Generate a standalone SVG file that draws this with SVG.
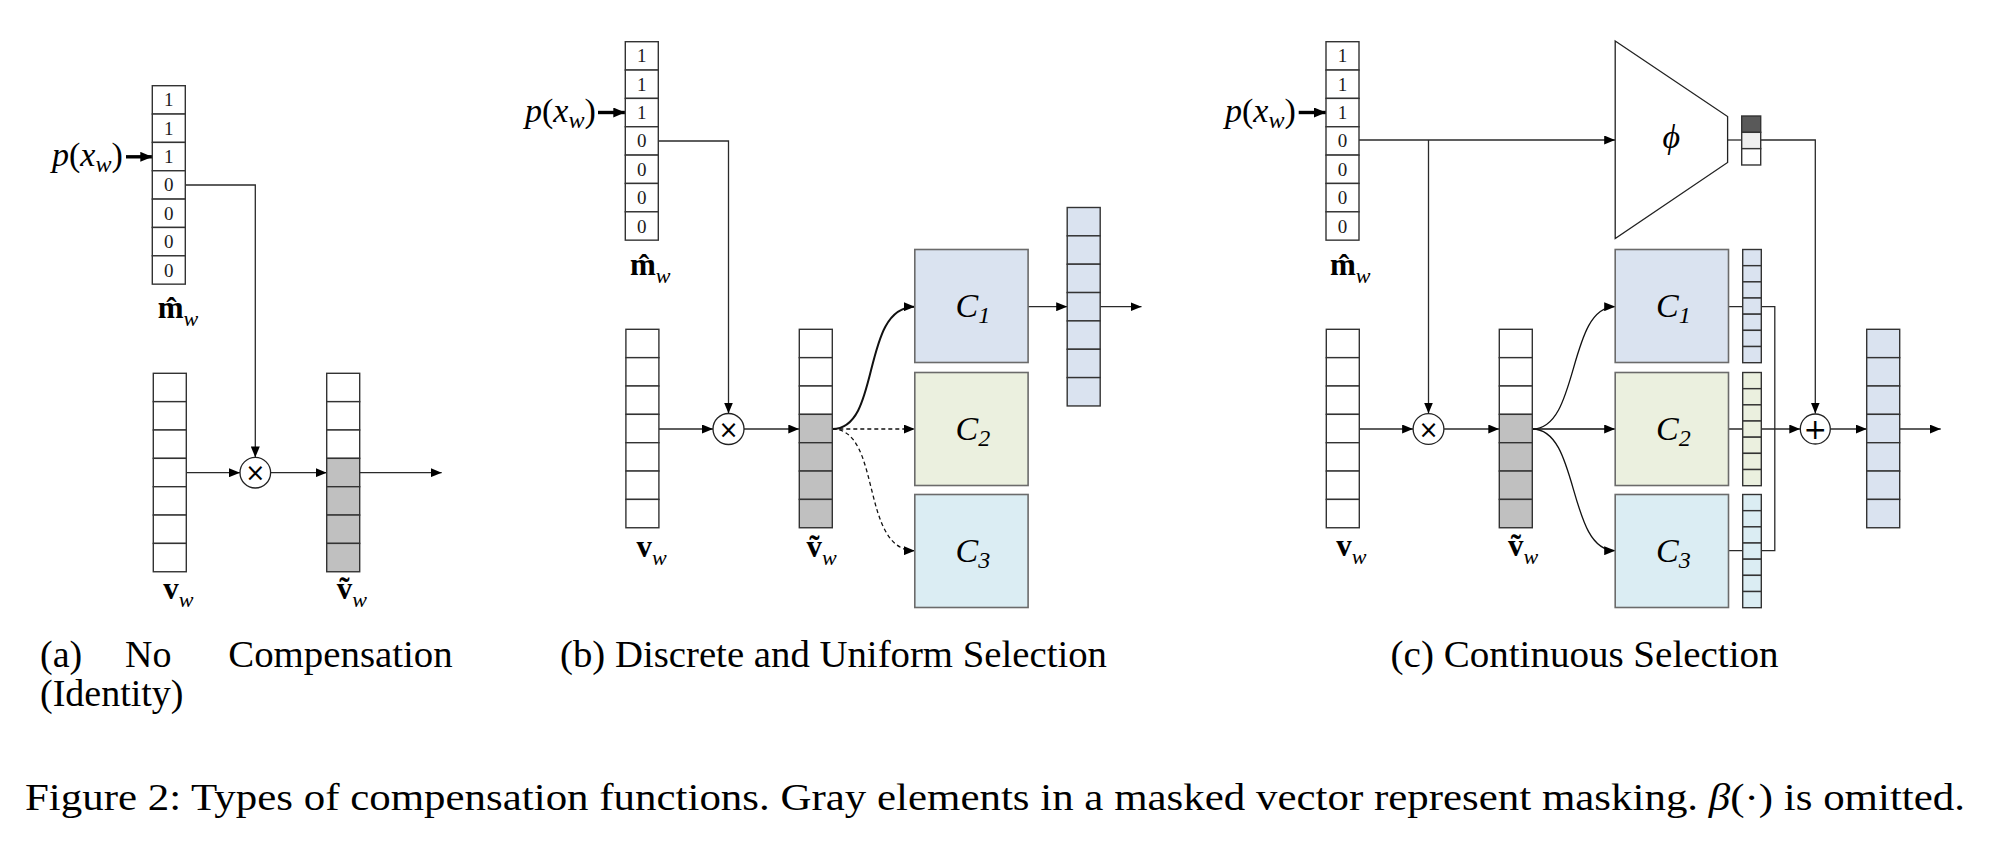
<svg xmlns="http://www.w3.org/2000/svg" xmlns:xlink="http://www.w3.org/1999/xlink" width="1994" height="853" viewBox="0 0 1994 853">
<style>
.bg{fill:#fff}
.vw{fill:#fff;stroke:#333;stroke-width:1.4}
.vb{fill:#dae3f0;stroke:#333;stroke-width:1.4}
.vg2{fill:#ebf0df;stroke:#333;stroke-width:1.4}
.vc3{fill:#dbedf3;stroke:#333;stroke-width:1.4}
.box{stroke:#6b6b6b;stroke-width:1.6}
.b1{fill:#dae3f0}.b2{fill:#ebf0df}.b3{fill:#dbedf3}
.ln{fill:none;stroke:#2a2a2a;stroke-width:1.3}
.cv{fill:none;stroke:#111;stroke-width:1.3}
.dash{stroke-dasharray:4 3}
.thick{fill:none;stroke:#000;stroke-width:3.4}
.op{fill:#fff;stroke:#222;stroke-width:1.3}
.sym{font-family:"DejaVu Sans",sans-serif;fill:#000;text-anchor:middle}
.t{font-family:"Liberation Serif","DejaVu Serif",serif;fill:#000}
.dg{font-family:"Liberation Serif",serif;font-size:19px;fill:#1a1a1a;text-anchor:middle}
.it{font-style:italic}
.bd{font-weight:bold}
.cap{font-family:"Liberation Serif",serif;font-size:38px;fill:#000}
.clab{font-family:"Liberation Serif",serif;font-style:italic;font-size:34px;fill:#000}
</style>
<defs>
<marker id="ah" viewBox="0 0 11 9" refX="11" refY="4.5" markerWidth="11" markerHeight="9" markerUnits="userSpaceOnUse" orient="auto"><path d="M0,0 L11,4.5 L0,9 z" fill="#000"/></marker>
<marker id="ahk" viewBox="0 0 12 10" refX="12" refY="5" markerWidth="12" markerHeight="10" markerUnits="userSpaceOnUse" orient="auto"><path d="M0,0 L12,5 L0,10 z" fill="#000"/></marker>
<g id="v7">
<rect x="0" y="0" width="33" height="28.35"/><rect x="0" y="28.35" width="33" height="28.35"/><rect x="0" y="56.7" width="33" height="28.35"/><rect x="0" y="85.05" width="33" height="28.35"/><rect x="0" y="113.4" width="33" height="28.35"/><rect x="0" y="141.75" width="33" height="28.35"/><rect x="0" y="170.1" width="33" height="28.35"/>
</g>
<g id="vm" style="stroke:#333;stroke-width:1.4">
<rect x="0" y="0" width="33" height="28.35" fill="#fff"/><rect x="0" y="28.35" width="33" height="28.35" fill="#fff"/><rect x="0" y="56.7" width="33" height="28.35" fill="#fff"/><rect x="0" y="85.05" width="33" height="28.35" fill="#c0c0c0"/><rect x="0" y="113.4" width="33" height="28.35" fill="#c0c0c0"/><rect x="0" y="141.75" width="33" height="28.35" fill="#c0c0c0"/><rect x="0" y="170.1" width="33" height="28.35" fill="#c0c0c0"/>
</g>
<g id="s7">
<rect x="0" y="0" width="18.6" height="16.17"/><rect x="0" y="16.17" width="18.6" height="16.17"/><rect x="0" y="32.34" width="18.6" height="16.17"/><rect x="0" y="48.51" width="18.6" height="16.17"/><rect x="0" y="64.68" width="18.6" height="16.17"/><rect x="0" y="80.85" width="18.6" height="16.17"/><rect x="0" y="97.02" width="18.6" height="16.17"/>
</g>
</defs>
<rect class="bg" x="0" y="0" width="1994" height="853"/>

<!-- ===== connectors ===== -->
<g id="connectors">
<!-- (a) -->
<path class="thick" d="M126,156.8 H152.3" marker-end="url(#ahk)"/>
<path class="ln" d="M185.3,185 H255.3 V457.4" marker-end="url(#ah)"/>
<path class="ln" d="M186.3,472.7 H240" marker-end="url(#ah)"/>
<path class="ln" d="M270.6,472.7 H326.7" marker-end="url(#ah)"/>
<path class="ln" d="M359.7,472.7 H441.7" marker-end="url(#ah)"/>
<!-- (b) -->
<path class="thick" d="M598,112.5 H625.3" marker-end="url(#ahk)"/>
<path class="ln" d="M658.3,141 H728.5 V413.5" marker-end="url(#ah)"/>
<path class="ln" d="M658.9,429 H713" marker-end="url(#ah)"/>
<path class="ln" d="M744,429 H799.3" marker-end="url(#ah)"/>
<path class="cv" style="stroke-width:2" d="M832.3,429 C882,429 860,306.7 914.8,306.7" marker-end="url(#ah)"/>
<path class="cv dash" d="M832.3,429 H914.8" marker-end="url(#ah)"/>
<path class="cv dash" d="M832.3,429 C882,429 860,550.7 914.8,550.7" marker-end="url(#ah)"/>
<path class="ln" d="M1028.1,306.7 H1067.2" marker-end="url(#ah)"/>
<path class="ln" d="M1100.2,306.7 H1141.5" marker-end="url(#ah)"/>
<!-- (c) -->
<path class="thick" d="M1298.7,112.5 H1326" marker-end="url(#ahk)"/>
<path class="ln" d="M1359,140 H1615.2" marker-end="url(#ah)"/>
<path class="ln" d="M1428.5,140 V413.5" marker-end="url(#ah)"/>
<path class="ln" d="M1359.5,429 H1413.1" marker-end="url(#ah)"/>
<path class="ln" d="M1444.1,429 H1499.3" marker-end="url(#ah)"/>
<path class="cv" d="M1532.3,429 C1580,429 1567,306.7 1615.2,306.7" marker-end="url(#ah)"/>
<path class="cv" d="M1532.3,429 H1615.2" marker-end="url(#ah)"/>
<path class="cv" d="M1532.3,429 C1580,429 1567,550.7 1615.2,550.7" marker-end="url(#ah)"/>
<path class="ln" d="M1727.6,140 H1741.7"/>
<path class="ln" d="M1760.7,140 H1815.3 V413.5" marker-end="url(#ah)"/>
<path class="ln" d="M1728.5,306.7 H1742.7 M1728.5,429 H1742.7 M1728.5,550.7 H1742.7"/>
<path class="ln" d="M1761.3,306.7 H1774.8 V550.7 H1761.3"/>
<path class="ln" d="M1761.3,429 H1800.3" marker-end="url(#ah)"/>
<path class="ln" d="M1830.3,429 H1866.7" marker-end="url(#ah)"/>
<path class="ln" d="M1899.7,429 H1940.7" marker-end="url(#ah)"/>
</g>

<!-- ===== panel (a) ===== -->
<g id="a_px">
<text class="t" x="52" y="166" font-size="34"><tspan class="it">p</tspan>(<tspan class="it">x</tspan><tspan class="it" font-size="24" dy="6">w</tspan><tspan dy="-6">)</tspan></text>
</g>
<g id="a_mask">
<use href="#v7" xlink:href="#v7" x="152.3" y="85.7" class="vw"/>
<text class="dg" x="168.8" y="106.4">1</text><text class="dg" x="168.8" y="134.75">1</text><text class="dg" x="168.8" y="163.1">1</text><text class="dg" x="168.8" y="191.45">0</text><text class="dg" x="168.8" y="219.8">0</text><text class="dg" x="168.8" y="248.15">0</text><text class="dg" x="168.8" y="276.5">0</text>
<text class="t" x="157.7" y="318"><tspan class="bd" font-size="31">m&#x302;</tspan><tspan class="it" font-size="22" dy="8">w</tspan></text>
</g>
<g id="a_vw">
<use href="#v7" xlink:href="#v7" x="153.3" y="373.3" class="vw"/>
<text class="t" x="163.3" y="598.5"><tspan class="bd" font-size="31">v</tspan><tspan class="it" font-size="22" dy="8">w</tspan></text>
</g>
<g id="a_mul">
<circle class="op" cx="255.3" cy="472.7" r="15.3"/>
<text class="sym" x="255.3" y="481.3" font-size="24">×</text>
</g>
<g id="a_vt">
<use href="#vm" xlink:href="#vm" x="326.7" y="373.3"/>
<text class="t" x="336.7" y="598.5"><tspan class="bd" font-size="31">v</tspan><tspan class="it" font-size="22" dy="8">w</tspan><tspan class="bd" font-size="31" x="344.5" dy="-8" text-anchor="middle">˜</tspan></text>
</g>

<!-- ===== panel (b) ===== -->
<g id="b_px">
<text class="t" x="525" y="122" font-size="34"><tspan class="it">p</tspan>(<tspan class="it">x</tspan><tspan class="it" font-size="24" dy="6">w</tspan><tspan dy="-6">)</tspan></text>
</g>
<g id="b_mask">
<use href="#v7" xlink:href="#v7" x="625.3" y="41.7" class="vw"/>
<text class="dg" x="641.8" y="62.4">1</text><text class="dg" x="641.8" y="90.75">1</text><text class="dg" x="641.8" y="119.1">1</text><text class="dg" x="641.8" y="147.45">0</text><text class="dg" x="641.8" y="175.8">0</text><text class="dg" x="641.8" y="204.15">0</text><text class="dg" x="641.8" y="232.5">0</text>
<text class="t" x="630" y="275"><tspan class="bd" font-size="31">m&#x302;</tspan><tspan class="it" font-size="22" dy="8">w</tspan></text>
</g>
<g id="b_vw">
<use href="#v7" xlink:href="#v7" x="625.9" y="329.3" class="vw"/>
<text class="t" x="636.6" y="556.5"><tspan class="bd" font-size="31">v</tspan><tspan class="it" font-size="22" dy="8">w</tspan></text>
</g>
<g id="b_mul">
<circle class="op" cx="728.5" cy="429" r="15.5"/>
<text class="sym" x="728.5" y="437.6" font-size="24">×</text>
</g>
<g id="b_vt">
<use href="#vm" xlink:href="#vm" x="799.3" y="329.3"/>
<text class="t" x="806.5" y="556.5"><tspan class="bd" font-size="31">v</tspan><tspan class="it" font-size="22" dy="8">w</tspan><tspan class="bd" font-size="31" x="814.3" dy="-8" text-anchor="middle">˜</tspan></text>
</g>
<g id="b_C1">
<rect class="box b1" x="914.8" y="249.5" width="113.3" height="113"/>
<text class="clab" x="955.5" y="317">C<tspan font-size="24" dy="6">1</tspan></text>
</g>
<g id="b_C2">
<rect class="box b2" x="914.8" y="372.5" width="113.3" height="113"/>
<text class="clab" x="955.5" y="440">C<tspan font-size="24" dy="6">2</tspan></text>
</g>
<g id="b_C3">
<rect class="box b3" x="914.8" y="494.5" width="113.3" height="113"/>
<text class="clab" x="955.5" y="562">C<tspan font-size="24" dy="6">3</tspan></text>
</g>
<g id="b_out">
<use href="#v7" xlink:href="#v7" x="1067.2" y="207.5" class="vb"/>
</g>

<!-- ===== panel (c) ===== -->
<g id="c_px">
<text class="t" x="1225" y="122" font-size="34"><tspan class="it">p</tspan>(<tspan class="it">x</tspan><tspan class="it" font-size="24" dy="6">w</tspan><tspan dy="-6">)</tspan></text>
</g>
<g id="c_mask">
<use href="#v7" xlink:href="#v7" x="1326" y="41.7" class="vw"/>
<text class="dg" x="1342.5" y="62.4">1</text><text class="dg" x="1342.5" y="90.75">1</text><text class="dg" x="1342.5" y="119.1">1</text><text class="dg" x="1342.5" y="147.45">0</text><text class="dg" x="1342.5" y="175.8">0</text><text class="dg" x="1342.5" y="204.15">0</text><text class="dg" x="1342.5" y="232.5">0</text>
<text class="t" x="1330" y="275"><tspan class="bd" font-size="31">m&#x302;</tspan><tspan class="it" font-size="22" dy="8">w</tspan></text>
</g>
<g id="c_phi">
<polygon points="1615.2,41 1727.6,116.5 1727.6,162.5 1615.2,238.5" fill="#fff" stroke="#222" stroke-width="1.3"/>
<text class="t it" x="1671.4" y="148" font-size="34" text-anchor="middle">ϕ</text>
</g>
<g id="c_phivec" style="stroke:#333;stroke-width:1.4">
<rect x="1741.7" y="116" width="19" height="16.33" fill="#595959"/>
<rect x="1741.7" y="132.33" width="19" height="16.33" fill="#efefef"/>
<rect x="1741.7" y="148.66" width="19" height="16.33" fill="#fff"/>
</g>
<g id="c_vw">
<use href="#v7" xlink:href="#v7" x="1326.3" y="329.3" class="vw"/>
<text class="t" x="1336.3" y="555.5"><tspan class="bd" font-size="31">v</tspan><tspan class="it" font-size="22" dy="8">w</tspan></text>
</g>
<g id="c_mul">
<circle class="op" cx="1428.5" cy="429" r="15.4"/>
<text class="sym" x="1428.5" y="437.6" font-size="24">×</text>
</g>
<g id="c_vt">
<use href="#vm" xlink:href="#vm" x="1499.3" y="329.3"/>
<text class="t" x="1508" y="555.5"><tspan class="bd" font-size="31">v</tspan><tspan class="it" font-size="22" dy="8">w</tspan><tspan class="bd" font-size="31" x="1515.8" dy="-8" text-anchor="middle">˜</tspan></text>
</g>
<g id="c_C1">
<rect class="box b1" x="1615.2" y="249.5" width="113.3" height="113"/>
<text class="clab" x="1656" y="317">C<tspan font-size="24" dy="6">1</tspan></text>
<use href="#s7" xlink:href="#s7" x="1742.7" y="249.5" class="vb"/>
</g>
<g id="c_C2">
<rect class="box b2" x="1615.2" y="372.5" width="113.3" height="113"/>
<text class="clab" x="1656" y="440">C<tspan font-size="24" dy="6">2</tspan></text>
<use href="#s7" xlink:href="#s7" x="1742.7" y="372.5" class="vg2"/>
</g>
<g id="c_C3">
<rect class="box b3" x="1615.2" y="494.5" width="113.3" height="113"/>
<text class="clab" x="1656" y="562">C<tspan font-size="24" dy="6">3</tspan></text>
<use href="#s7" xlink:href="#s7" x="1742.7" y="494.5" class="vc3"/>
</g>
<g id="c_add">
<circle class="op" cx="1815.3" cy="429" r="15"/>
<text class="sym" x="1815.3" y="439" font-size="28">+</text>
</g>
<g id="c_out">
<use href="#v7" xlink:href="#v7" x="1866.7" y="329.3" class="vb"/>
</g>

<!-- ===== captions ===== -->
<g id="captions">
<text class="cap" x="40" y="666.5">(a)</text>
<text class="cap" x="125" y="666.5">No</text>
<text class="cap" x="228.3" y="666.5" textLength="224.4" lengthAdjust="spacingAndGlyphs">Compensation</text>
<text class="cap" x="40" y="706">(Identity)</text>
<text class="cap" x="560" y="666.5" textLength="547" lengthAdjust="spacingAndGlyphs">(b) Discrete and Uniform Selection</text>
<text class="cap" x="1390.6" y="666.5" textLength="388" lengthAdjust="spacingAndGlyphs">(c) Continuous Selection</text>
<text class="cap" x="25" y="809.5" textLength="1940" lengthAdjust="spacingAndGlyphs">Figure 2: Types of compensation functions. Gray elements in a masked vector represent masking. <tspan class="it">β</tspan>(·) is omitted.</text>
</g>
</svg>
